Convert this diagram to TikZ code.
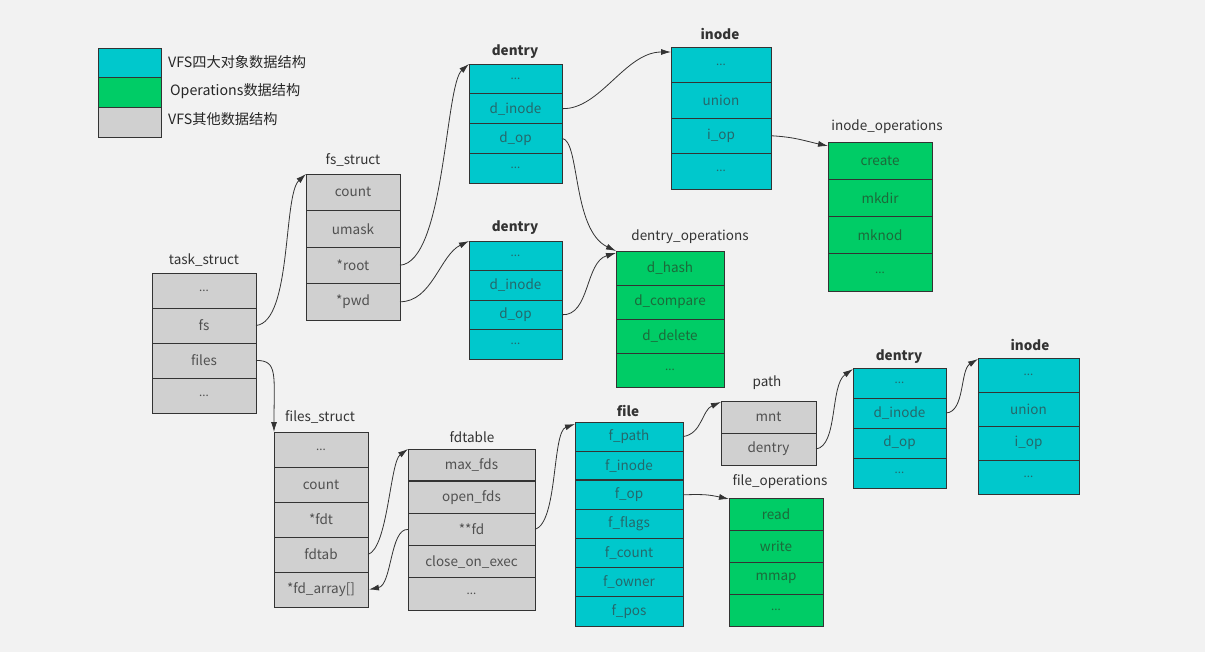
\documentclass[tikz,border=0pt]{standalone}
\usepackage{fontspec}
\setmainfont{Noto Sans CJK SC}
\usetikzlibrary{arrows.meta}
\definecolor{bg}{HTML}{F2F2F2}
\definecolor{cy}{HTML}{00C8CC}
\definecolor{gr}{HTML}{00CC66}
\definecolor{gy}{HTML}{D0D0D0}
\definecolor{ln}{HTML}{333333}
\definecolor{tgy}{HTML}{505050}
\definecolor{tcy}{HTML}{25686B}
\definecolor{tgr}{HTML}{1C6A3A}
\newcommand\dts{{\fontsize{11.5}{13}\selectfont...}}
\newcommand\mkstruct[7]{%
  \foreach \t [count=\i] in {#7} {
    \node[#6, minimum width=#4pt, minimum height=#5pt, anchor=north west] (#1-\i) at (#2, {#3+(\i-1)*#5}) {\t};
  }}
\begin{document}
\begin{tikzpicture}[x=1pt,y=-1pt,
  cellbase/.style={draw=ln, line width=0.8pt, inner sep=0pt, outer sep=0pt, font=\fontsize{13.5}{15}\selectfont},
  cyc/.style={cellbase, fill=cy, text=tcy},
  grc/.style={cellbase, fill=gr, text=tgr},
  gyc/.style={cellbase, fill=gy, text=tgy},
  ttl/.style={inner sep=0pt, text=ln, font=\fontsize{13.5}{15}\selectfont},
  bttl/.style={ttl, font=\fontsize{13.5}{15}\selectfont\bfseries},
  lg/.style={inner sep=0pt, anchor=west, text=black!85, font=\fontsize{14.2}{16}\selectfont},
  conn/.style={draw=ln, line width=0.8pt, -{Latex[length=10pt,width=6pt]}}]
\useasboundingbox (0,0) rectangle (1205,652);
\fill[bg] (0,0) rectangle (1205,652);
% legend
\draw[ln, line width=0.8pt, fill=cy] (98,48) rectangle (161,77);
\draw[ln, line width=0.8pt, fill=gr] (98,77) rectangle (161,107);
\draw[ln, line width=0.8pt, fill=gy] (98,107) rectangle (161,137);
\node[lg] (lg1) at (168,62) {VFS四大对象数据结构};
\node[lg] (lg2) at (170,91) {Operations数据结构};
\node[lg] (lg3) at (168,119) {VFS其他数据结构};
% structures
\mkstruct{ts}{152}{273}{104}{35}{gyc}{\dts,fs,files,\dts}
\mkstruct{fs}{306}{174}{94}{36.5}{gyc}{count,umask,*root,*pwd}
\mkstruct{da}{469}{64}{93}{29.75}{cyc}{\dts,{d\_inode},{d\_op},\dts}
\mkstruct{ia}{671}{47}{100}{35.5}{cyc}{\dts,union,{i\_op},\dts}
\mkstruct{db}{469}{241}{93}{29.5}{cyc}{\dts,{d\_inode},{d\_op},\dts}
\mkstruct{dop}{616}{251}{108}{34}{grc}{{d\_hash},{d\_compare},{d\_delete},\dts}
\mkstruct{iop}{828}{142}{104}{37.25}{grc}{create,mkdir,mknod,\dts}
\mkstruct{fl}{274}{432}{94}{35}{gyc}{\dts,count,*fdt,fdtab,{*fd\_array[]}}
\mkstruct{fdt}{408}{449}{127}{32.2}{gyc}{{max\_fds},{open\_fds},**fd,{close\_on\_exec},\dts}
\mkstruct{fi}{575}{422}{108}{29.14}{cyc}{{f\_path},{f\_inode},{f\_op},{f\_flags},{f\_count},{f\_owner},{f\_pos}}
\mkstruct{pa}{721}{401}{95}{32}{gyc}{mnt,dentry}
\mkstruct{fop}{729}{498}{94}{32}{grc}{read,write,mmap,\dts}
\mkstruct{dc}{853}{368}{93}{30}{cyc}{\dts,{d\_inode},{d\_op},\dts}
\mkstruct{ic}{978}{358}{101}{34}{cyc}{\dts,union,{i\_op},\dts}
\draw[ln, line width=1.6pt] (fdt-1.south west) -- (fdt-1.south east);
\draw[ln, line width=1.6pt] (fi-2.south west) -- (fi-2.south east);
% titles
\node[ttl] (tts) at (204,260) {task\_struct};
\node[ttl] (tfs) at (353,160) {fs\_struct};
\node[bttl] (tda) at (515,52) {dentry};
\node[bttl] (tia) at (720,34) {inode};
\node[bttl] (tdb) at (515,228) {dentry};
\node[ttl] (tdop) at (690,237) {dentry\_operations};
\node[ttl] (tiop) at (887,127) {inode\_operations};
\node[ttl] (tfl) at (320,417) {files\_struct};
\node[ttl] (tfdt) at (472,437) {fdtable};
\node[bttl] (tfi) at (628,411) {file};
\node[ttl] (tpa) at (767,383) {path};
\node[ttl] (tfop) at (780,482) {file\_operations};
\node[bttl] (tdc) at (899,357) {dentry};
\node[bttl] (tic) at (1030,345) {inode};
% connectors
\draw[conn] (ts-2.east) .. controls (292,322) and (283,195) .. (fs-1.north west);
\draw[conn] (ts-3.east) .. controls (278,360) and (274,375) .. (fl-1.north west);
\draw[conn] (fs-3.east) .. controls (445,262) and (445,85) .. (da-1.north west);
\draw[conn] (fs-4.east) .. controls (432,302) and (440,255) .. (db-1.north west);
\draw[conn] (da-2.east) .. controls (600,110) and (625,52) .. ([yshift=-5pt]ia-1.north west);
\draw[conn] (da-3.east) .. controls (580,140) and (572,230) .. (dop-1.north west);
\draw[conn] (db-3.east) .. controls (590,316) and (585,262) .. ([yshift=-2pt]dop-1.north west);
\draw[conn] (ia-3.east) .. controls (795,137) and (805,141) .. ([yshift=-4pt]iop-1.north west);
\draw[conn] (fdt-3.east) .. controls (558,522) and (552,432) .. ([yshift=-2pt]fi-1.north west);
\draw[conn] (fl-4.east) .. controls (388,548) and (390,462) .. (fdt-1.north west);
\draw[conn] (fdt-3.west) .. controls (390,528) and (392,585) .. ([xshift=1pt]fl-5.east);
\draw[conn] (fi-1.east) .. controls (702,434) and (702,410) .. ([yshift=-1pt]pa-1.north west);
\draw[conn] (fi-3.east) .. controls (705,494) and (710,495) .. ([yshift=-1pt]fop-1.north west);
\draw[conn] (pa-2.east) .. controls (838,446) and (830,385) .. ([yshift=-1pt]dc-1.north west);
\draw[conn] (dc-2.east) .. controls (965,412) and (960,370) .. ([yshift=-1pt]ic-1.north west);
\end{tikzpicture}
\end{document}
